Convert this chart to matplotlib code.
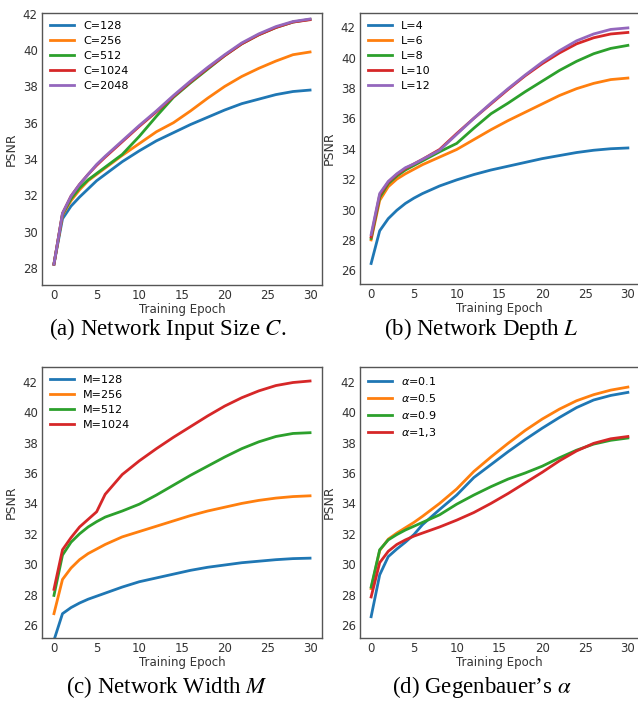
import matplotlib
matplotlib.use("Agg")
import matplotlib.pyplot as plt

# training epochs at which PSNR was read
epochs = [0, 1, 2, 3, 4, 5, 6, 8, 10, 12, 14, 16, 18, 20, 22, 24, 26, 28, 30]

# (a) network input size C
size_labels = ["C=128", "C=256", "C=512", "C=1024", "C=2048"]
c128 = [28.2, 30.7, 31.4, 31.9, 32.35, 32.8, 33.15, 33.85, 34.45, 35.0, 35.45, 35.9, 36.3, 36.7, 37.05, 37.3, 37.55, 37.72, 37.8]
c256 = [28.2, 30.9, 31.7, 32.3, 32.8, 33.15, 33.5, 34.2, 34.85, 35.5, 36.0, 36.65, 37.35, 38.0, 38.55, 39.0, 39.4, 39.75, 39.9]
c512 = [28.2, 30.95, 31.8, 32.4, 32.85, 33.2, 33.55, 34.25, 35.25, 36.35, 37.4, 38.2, 38.95, 39.7, 40.35, 40.85, 41.25, 41.55, 41.7]
c1024 = [28.2, 31.0, 31.95, 32.6, 33.15, 33.65, 34.1, 34.95, 35.8, 36.6, 37.45, 38.25, 39.0, 39.7, 40.35, 40.85, 41.25, 41.55, 41.68]
c2048 = [28.2, 31.0, 31.95, 32.6, 33.15, 33.7, 34.15, 35.0, 35.85, 36.65, 37.5, 38.3, 39.05, 39.75, 40.4, 40.9, 41.3, 41.58, 41.72]

# (b) network depth L
depth_labels = ["L=4", "L=6", "L=8", "L=10", "L=12"]
l4 = [26.45, 28.6, 29.4, 29.95, 30.4, 30.75, 31.05, 31.55, 31.95, 32.3, 32.6, 32.85, 33.1, 33.35, 33.55, 33.75, 33.9, 34.0, 34.05]
l6 = [28.0, 30.6, 31.5, 32.0, 32.35, 32.65, 32.95, 33.45, 33.95, 34.6, 35.25, 35.85, 36.4, 36.95, 37.5, 37.95, 38.3, 38.55, 38.65]
l8 = [28.1, 30.8, 31.7, 32.2, 32.6, 32.9, 33.2, 33.8, 34.35, 35.35, 36.3, 37.0, 37.75, 38.45, 39.15, 39.75, 40.25, 40.6, 40.8]
l10 = [28.2, 30.95, 31.8, 32.3, 32.7, 33.0, 33.3, 33.95, 35.0, 36.0, 36.95, 37.9, 38.8, 39.6, 40.3, 40.9, 41.3, 41.55, 41.65]
l12 = [28.35, 31.05, 31.85, 32.35, 32.75, 33.0, 33.3, 33.9, 34.95, 36.0, 37.0, 37.95, 38.85, 39.7, 40.45, 41.1, 41.55, 41.85, 41.95]

# (c) network width M
width_labels = ["M=128", "M=256", "M=512", "M=1024"]
m128 = [25.0, 26.75, 27.15, 27.45, 27.7, 27.9, 28.1, 28.5, 28.85, 29.1, 29.35, 29.6, 29.8, 29.95, 30.1, 30.2, 30.3, 30.37, 30.4]
m256 = [26.75, 29.0, 29.75, 30.3, 30.7, 31.0, 31.3, 31.8, 32.15, 32.5, 32.85, 33.2, 33.5, 33.75, 34.0, 34.2, 34.35, 34.45, 34.5]
m512 = [27.95, 30.6, 31.45, 32.0, 32.45, 32.8, 33.1, 33.5, 33.95, 34.55, 35.2, 35.85, 36.45, 37.05, 37.6, 38.05, 38.4, 38.6, 38.65]
m1024 = [28.35, 30.95, 31.75, 32.45, 32.95, 33.45, 34.6, 35.9, 36.8, 37.6, 38.35, 39.05, 39.75, 40.4, 40.95, 41.4, 41.75, 41.95, 42.05]

# (d) Gegenbauer's alpha
alpha_labels = [r"$\alpha$=0.1", r"$\alpha$=0.5", r"$\alpha$=0.9", r"$\alpha$=1,3"]
a01 = [26.55, 29.3, 30.5, 31.0, 31.45, 31.95, 32.6, 33.6, 34.55, 35.7, 36.55, 37.4, 38.2, 38.95, 39.65, 40.3, 40.8, 41.1, 41.3]
a05 = [28.4, 30.9, 31.65, 32.05, 32.4, 32.75, 33.15, 34.0, 34.95, 36.1, 37.05, 37.95, 38.8, 39.55, 40.2, 40.75, 41.15, 41.45, 41.65]
a09 = [28.5, 30.95, 31.6, 31.95, 32.25, 32.5, 32.75, 33.25, 33.95, 34.55, 35.1, 35.6, 36.0, 36.45, 37.0, 37.5, 37.9, 38.15, 38.3]
a13 = [27.85, 30.1, 30.85, 31.3, 31.6, 31.85, 32.05, 32.45, 32.9, 33.4, 34.0, 34.65, 35.35, 36.05, 36.8, 37.45, 37.95, 38.25, 38.4]

colors = ["#1f77b4", "#ff7f0e", "#2ca02c", "#d62728", "#9467bd"]

panels = [
    # axes rect, series, labels, ylim, yticks, xlim
    ([42 / 638, 1 - 285 / 711, 280 / 638, 272 / 711], [c128, c256, c512, c1024, c2048],
     size_labels, (27.05, 42.05), range(28, 43, 2), (-1.4, 31.4)),
    ([360 / 638, 1 - 284 / 711, 279 / 638, 271 / 711], [l4, l6, l8, l10, l12],
     depth_labels, (25.1, 42.93), range(26, 43, 2), (-1.3, 31.3)),
    ([42 / 638, 1 - 638 / 711, 280 / 638, 271 / 711], [m128, m256, m512, m1024],
     width_labels, (25.15, 42.97), range(26, 43, 2), (-1.4, 31.4)),
    ([360 / 638, 1 - 638 / 711, 279 / 638, 271 / 711], [a01, a05, a09, a13],
     alpha_labels, (25.15, 42.97), range(26, 43, 2), (-1.3, 31.3)),
]

captions = [
    (0.263, 1 - 329 / 711, r"(a) Network Input Size $C$."),
    (0.755, 1 - 329 / 711, r"(b) Network Depth $L$"),
    (0.262, 1 - 687 / 711, r"(c) Network Width $M$"),
    (0.755, 1 - 687 / 711, r"(d) Gegenbauer’s $\alpha$"),
]

fig = plt.figure(figsize=(6.38, 7.11), dpi=100)

for rect, series, labels, ylim, yticks, xlim in panels:
    ax = fig.add_axes(rect)
    for vals, lab, col in zip(series, labels, colors):
        ax.plot(epochs, vals, color=col, lw=2.0, label=lab)
    ax.set_xlim(*xlim)
    ax.set_ylim(*ylim)
    ax.set_xticks(range(0, 31, 5))
    ax.set_yticks(list(yticks))
    ax.tick_params(length=0, pad=3, labelsize=8.5, colors="#333333")
    for sp in ax.spines.values():
        sp.set_color("#555555")
        sp.set_linewidth(1.0)
    ax.set_xlabel("Training Epoch", fontsize=8.5, color="#333333", labelpad=0.5)
    ax.set_ylabel("PSNR", fontsize=9, color="#333333", labelpad=4)
    ax.legend(loc="upper left", frameon=False, fontsize=8, handlelength=2.2,
              labelspacing=0.45, borderaxespad=0.3)

for x, y, txt in captions:
    fig.text(x, y, txt, ha="center", va="center", fontsize=16.5,
             family="Liberation Serif", math_fontfamily="stix")

fig.savefig("out.png", dpi=100, facecolor="white")
